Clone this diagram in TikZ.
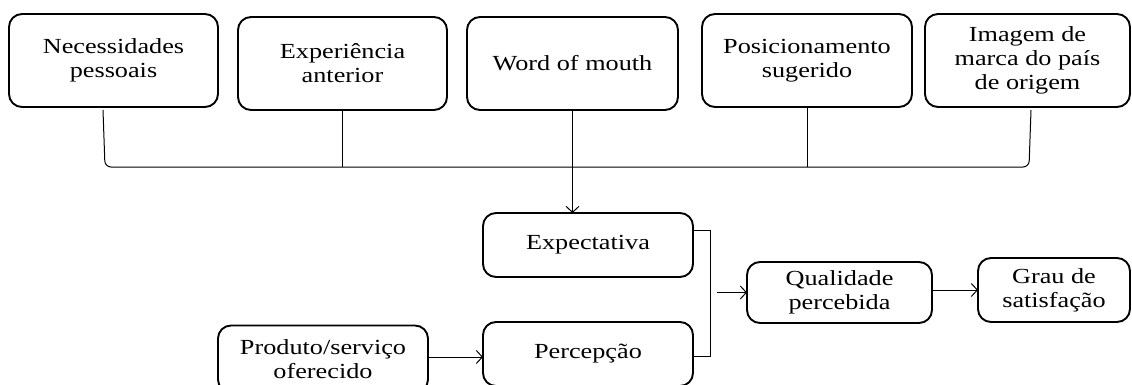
\documentclass[tikz,border=0pt]{standalone}
\usepackage{fontspec}
\setmainfont{Liberation Serif}[FakeStretch=1.22]
\usetikzlibrary{arrows.meta}
\begin{document}
\begin{tikzpicture}[x=1pt,y=-1pt,
  box/.style={draw,line width=1.9pt,rounded corners=13pt,inner sep=0pt,outer sep=0pt,
    align=center,font=\fontsize{21.5}{24}\selectfont},
  conn/.style={line width=1pt},
  arr/.style={line width=1pt,-{Straight Barb[length=6pt,width=13pt]}}]
\useasboundingbox (0,0) rectangle (1132,385);
% top row
\node[box,minimum width=209pt,minimum height=93pt] (b1) at (113.5,60.5) {Necessidades\\pessoais};
\node[box,minimum width=209pt,minimum height=93pt] (b2) at (342.5,63.5) {Experiência\\anterior};
\node[box,minimum width=211pt,minimum height=93pt] (b3) at (572.5,63.5) {Word of mouth};
\node[box,minimum width=210pt,minimum height=93pt] (b4) at (807,60.5) {Posicionamento\\sugerido};
\node[box,minimum width=205pt,minimum height=93pt] (b5) at (1027.5,60.5) {Imagem de\\marca do país\\de origem};
% lower part
\node[box,minimum width=210pt,minimum height=64pt] (exp) at (588,245) {Expectativa};
\node[box,minimum width=210pt,minimum height=64pt] (per) at (588,354) {Percepção};
\node[box,minimum width=210pt,minimum height=67pt] (prod) at (323,359) {Produto/serviço\\oferecido};
\node[box,minimum width=185pt,minimum height=61pt] (qual) at (839.5,292.5) {Qualidade\\percebida};
\node[box,minimum width=152pt,minimum height=64pt] (grau) at (1054,290) {Grau de\\satisfação};
% bracket collecting the top row
\coordinate (L) at (103,110);
\coordinate (R) at (1031,110);
\coordinate (bar) at (0,167);
\draw[conn,rounded corners=6pt] (L) -- (105,167) -- (1029,167) -- (R);
\draw[conn] (b2.south) -- (b2.south |- bar);
\draw[conn] (b4.south) -- (b4.south |- bar);
\draw[arr] (b3.south) -- (exp.north -| b3.south);
% bracket collecting expectativa and percepcao
\coordinate (e1) at (exp.east |- 0,230);
\coordinate (p1) at (per.east |- 0,356);
\draw[conn] (e1) -- ++(17,0) coordinate (e2) -- (e2 |- p1) -- (p1);
\coordinate (q0) at (717,0);
\draw[arr] (q0 |- qual.west) -- (qual.west);
\draw[arr] (prod.east |- 0,357) -- (per.west |- 0,357);
\draw[arr] (qual.east |- grau.west) -- (grau.west);
\end{tikzpicture}
\end{document}
